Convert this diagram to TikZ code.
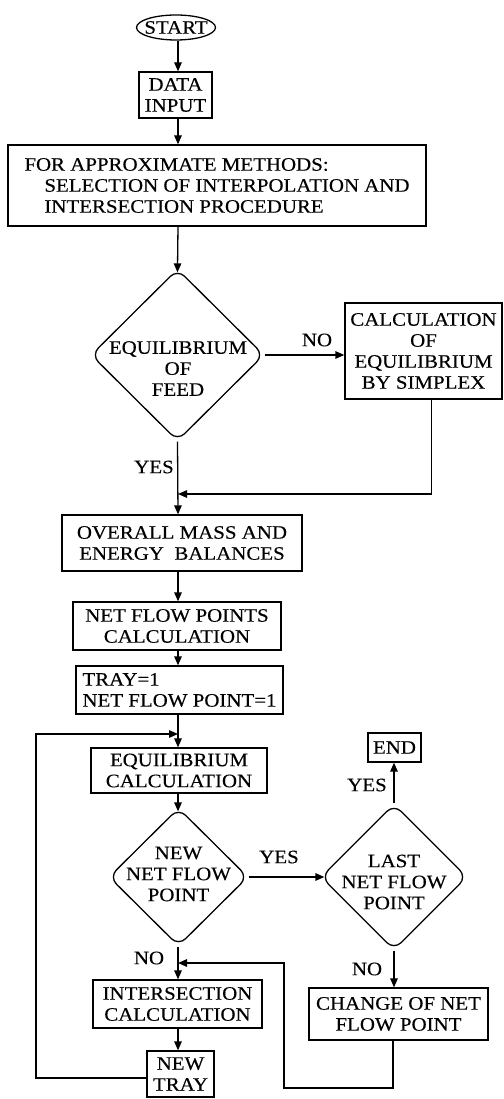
\documentclass[tikz,border=0pt]{standalone}
\usepackage{fontspec}
\setmainfont{Liberation Serif}[FakeStretch=1.1,FakeBold=0.3]
\usetikzlibrary{shapes.geometric,arrows.meta}
\begin{document}
\begin{tikzpicture}[x=1pt,y=1pt,
  every node/.style={font=\fontsize{19}{21}\selectfont},
  box/.style={draw,line width=1.3pt,rectangle,inner sep=0pt,align=center},
  dia/.style={draw,line width=1.3pt,diamond,rounded corners=10pt,inner sep=0pt},
  lbl/.style={inner sep=0pt},
  flow/.style={line width=1.3pt,-{Triangle[length=9pt,width=7.5pt]}},
  intodia/.style={shorten >=-4pt}]
\useasboundingbox (0,0) rectangle (503,-1099);
\coordinate (main) at (178,0);

\node[ellipse,draw,line width=1.3pt,minimum width=79pt,minimum height=25pt,inner sep=0pt] (start) at (176,-27.5) {\makebox[50pt]{START}};
\node[box,minimum width=73pt,minimum height=46pt] (data) at (175.5,-95) {DATA\\INPUT};
\node[box,minimum width=418pt,minimum height=81pt,align=left] (approx) at (217,-185.5) {FOR APPROXIMATE METHODS:\\\hspace*{20pt}SELECTION OF INTERPOLATION AND\\\hspace*{20pt}INTERSECTION PROCEDURE};

\node[dia,minimum width=173pt,minimum height=172pt] (feed) at (177.5,-355) {};
\node[lbl,align=center] (feedtxt) at (178,-368.5) {EQUILIBRIUM\\OF\\FEED};
\node[box,minimum width=157pt,minimum height=96pt] (simplex) at (423.5,-351) {CALCULATION\\OF\\EQUILIBRIUM\\BY SIMPLEX};
\node[lbl] (no1) at (317,-340) {NO};
\node[lbl] (yes1) at (154,-467) {YES};
\coordinate (join) at (178,-494);

\node[box,minimum width=240pt,minimum height=56pt] (overall) at (182,-543) {OVERALL MASS AND\\ENERGY\ \ BALANCES};
\node[box,minimum width=208pt,minimum height=48pt] (netpts) at (177,-626) {NET FLOW POINTS\\CALCULATION};
\node[box,minimum width=207pt,minimum height=48pt,align=left] (tray) at (179.5,-690) {TRAY=1\\NET FLOW POINT=1};
\node[box,minimum width=176pt,minimum height=45pt] (eqcalc) at (179,-770.5) {EQUILIBRIUM\\CALCULATION};

\node[dia,minimum width=139pt,minimum height=138pt] (newnfp) at (178.5,-877) {};
\node[lbl,align=center] (newnfptxt) at (178.5,-874) {NEW\\NET FLOW\\POINT};
\node[dia,minimum width=146pt,minimum height=146pt] (last) at (394,-877) {};
\node[lbl,align=center] (lasttxt) at (394,-882) {LAST\\NET FLOW\\POINT};
\node[box,minimum width=53pt,minimum height=29pt] (end) at (394.5,-747.5) {END};
\node[lbl] (yes2) at (367,-785) {YES};
\node[lbl] (yes3) at (279,-857) {YES};
\node[lbl] (no2) at (149,-958) {NO};
\node[lbl] (no3) at (367,-969) {NO};

\node[box,minimum width=169pt,minimum height=48pt] (inters) at (177.5,-1004) {INTERSECTION\\CALCULATION};
\node[box,minimum width=67pt,minimum height=46pt] (newtray) at (180.5,-1074) {NEW\\TRAY};
\node[box,minimum width=179pt,minimum height=52pt] (change) at (398.5,-1014) {CHANGE OF NET\\FLOW POINT};

\coordinate (lt) at (36,-734);
\coordinate (c1) at (284,-1088);
\coordinate (c2) at (284,-963);

\draw[flow] (start.south -| main) -- (data.north -| main);
\draw[flow] (data.south -| main) -- (approx.north -| main);
\draw[flow,intodia] (approx.south -| main) -- (feed.north);
\draw[flow] (feed.east) -- (feed.east -| simplex.west);
\draw[flow] (feed.south) -- (overall.north -| main);
\draw[flow] ([xshift=8pt]simplex.south) |- (join);
\draw[flow] (overall.south -| main) -- (netpts.north -| main);
\draw[flow] (netpts.south -| main) -- (tray.north -| main);
\draw[flow] (tray.south -| main) -- (eqcalc.north -| main);
\draw[flow,intodia] (eqcalc.south -| main) -- (newnfp.north -| main);
\draw[flow,intodia] (newnfp.east) -- (last.west);
\draw[flow] (last.north) -- (end.south -| last.north);
\draw[flow] (last.south) -- (last.south |- change.north);
\draw[flow] (newnfp.south -| main) -- (inters.north -| main);
\draw[flow] (inters.south -| main) -- (newtray.north -| main);
\draw[flow] ([yshift=-4pt]newtray.west) -| (lt) -- (lt -| main);
\draw[flow] ([xshift=-5.5pt]change.south) |- (c1) -- (c2) -- (c2 -| main);
\end{tikzpicture}
\end{document}
